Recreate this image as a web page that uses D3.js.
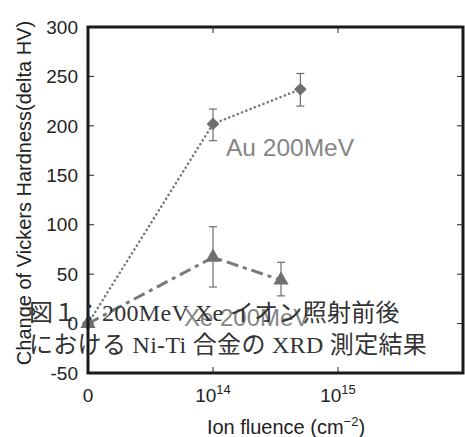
<!DOCTYPE html>
<html>
<head>
<meta charset="utf-8">
<script src="https://cdn.jsdelivr.net/npm/d3@7"></script>
<style>
  html, body { margin: 0; padding: 0; background: #fff; }
  svg { display: block; }
</style>
</head>
<body>
<svg id="chart" width="465" height="437"></svg>
<script>
// Fluence (cm^-2); 0 means the unirradiated sample, drawn at the left edge
const auFluence = [0, 1e14, 5e14];
const auHardness = [0, 202, 237];
const auErrLow = [0, 185, 220];
const auErrHigh = [0, 217, 253];

const xeFluence = [0, 1e14, 3.5e14];
const xeHardness = [0, 67, 44];
const xeErrLow = [0, 37, 28];
const xeErrHigh = [0, 98, 62];

const yTicks = [-50, 0, 50, 100, 150, 200, 250, 300];
const xTicks = [1e14, 1e15];
const xTickExponents = ["14", "15"];

const seriesNames = ["Au 200MeV", "Xe 200MeV"];
const captionLines = ["図１：200MeV Xe イオン照射前後", "における Ni-Ti 合金の XRD 測定結果"];

const svg = d3.select("#chart");
const plotL = 88, plotR = 463, plotT = 27, plotB = 373;

const xLog = d3.scaleLog().domain([1e13, 1e16]).range([plotL, plotR]);
const x = v => v === 0 ? xLog(1e13) : xLog(v);
const y = d3.scaleLinear().domain([-50, 300]).range([plotB, plotT]);

const markColor = "#6f6f6f";
const sansFont = "'Liberation Sans', Arial, sans-serif";

// Inward ticks on all four sides
const tickG = svg.append("g").attr("stroke", "#222").attr("stroke-width", 1);
yTicks.forEach(t => {
  tickG.append("line").attr("x1", plotL).attr("x2", plotL + 6).attr("y1", y(t)).attr("y2", y(t));
  tickG.append("line").attr("x1", plotR - 6).attr("x2", plotR).attr("y1", y(t)).attr("y2", y(t));
});
xTicks.forEach(t => {
  tickG.append("line").attr("x1", xLog(t)).attr("x2", xLog(t)).attr("y1", plotB).attr("y2", plotB - 6);
  tickG.append("line").attr("x1", xLog(t)).attr("x2", xLog(t)).attr("y1", plotT).attr("y2", plotT + 6);
});

// Y tick labels
svg.append("g").selectAll("text").data(yTicks).join("text")
  .attr("x", plotL - 10).attr("y", d => y(d)).attr("dy", "0.35em")
  .attr("text-anchor", "end").attr("font-family", sansFont).attr("font-size", 19)
  .attr("fill", "#222").text(d => d);

// X tick labels
svg.append("text").attr("x", x(0)).attr("y", 402).attr("text-anchor", "middle")
  .attr("font-family", sansFont).attr("font-size", 19).attr("fill", "#222").text("0");
xTicks.forEach((t, i) => {
  const tx = svg.append("text").attr("x", xLog(t)).attr("y", 402).attr("text-anchor", "middle")
    .attr("font-family", sansFont).attr("font-size", 19).attr("fill", "#222");
  tx.append("tspan").text("10");
  tx.append("tspan").attr("dy", -8).attr("font-size", 13).text(xTickExponents[i]);
});

// Axis titles
const xt = svg.append("text").attr("x", 286).attr("y", 434).attr("text-anchor", "middle")
  .attr("font-family", sansFont).attr("font-size", 20).attr("fill", "#222");
xt.append("tspan").text("Ion fluence (cm");
xt.append("tspan").attr("dy", -8).attr("font-size", 13).text("−2");
xt.append("tspan").attr("dy", 8).text(")");

svg.append("text").attr("transform", "translate(31,193) rotate(-90)")
  .attr("text-anchor", "middle").attr("font-family", sansFont).attr("font-size", 20)
  .attr("fill", "#222").text("Change of Vickers Hardness(delta HV)");

// Series
function drawSeries(fl, vals, lo, hi, dash, shape) {
  const pts = fl.map((f, i) => [x(f), y(vals[i])]);
  svg.append("path").attr("d", d3.line()(pts)).attr("fill", "none")
    .attr("stroke", "#7a7a7a").attr("stroke-width", shape === "diamond" ? 2.6 : 3)
    .attr("stroke-dasharray", dash).attr("stroke-linecap", shape === "diamond" ? "round" : "butt");
  const eb = svg.append("g").attr("stroke", markColor).attr("stroke-width", 1.2);
  fl.forEach((f, i) => {
    if (hi[i] === lo[i]) return;
    const cx = x(f);
    eb.append("line").attr("x1", cx).attr("x2", cx).attr("y1", y(lo[i])).attr("y2", y(hi[i]));
    eb.append("line").attr("x1", cx - 4).attr("x2", cx + 4).attr("y1", y(lo[i])).attr("y2", y(lo[i]));
    eb.append("line").attr("x1", cx - 4).attr("x2", cx + 4).attr("y1", y(hi[i])).attr("y2", y(hi[i]));
  });
  const sym = d3.symbol().type(shape === "diamond" ? d3.symbolSquare : d3.symbolTriangle)
    .size(shape === "diamond" ? 80 : 100);
  svg.append("g").selectAll("path").data(pts).join("path")
    .attr("transform", d => `translate(${d[0]},${d[1]})` + (shape === "diamond" ? " rotate(45)" : ""))
    .attr("d", sym).attr("fill", markColor);
}
drawSeries(xeFluence, xeHardness, xeErrLow, xeErrHigh, "12,5,4,5", "triangle");
drawSeries(auFluence, auHardness, auErrLow, auErrHigh, "0.1,4.5", "diamond");

// Series labels
svg.append("text").attr("x", 226).attr("y", 156).attr("font-family", sansFont)
  .attr("font-size", 24.5).attr("fill", "#858585").text(seriesNames[0]);
svg.append("text").attr("x", 184).attr("y", 326).attr("font-family", sansFont)
  .attr("font-size", 24).attr("fill", "#858585").text(seriesNames[1]);

// Frame
svg.append("rect").attr("x", plotL).attr("y", plotT).attr("width", plotR - plotL).attr("height", plotB - plotT)
  .attr("fill", "none").attr("stroke", "#1a1a1a").attr("stroke-width", 3);

// Caption
captionLines.forEach((line, i) => {
  svg.append("text").attr("x", 29).attr("y", 321 + i * 32)
    .attr("font-family", "'Liberation Serif', 'Noto Sans CJK JP', serif").attr("font-size", 24)
    .attr("letter-spacing", 0.3).attr("fill", "#333").text(line);
});
</script>
</body>
</html>
